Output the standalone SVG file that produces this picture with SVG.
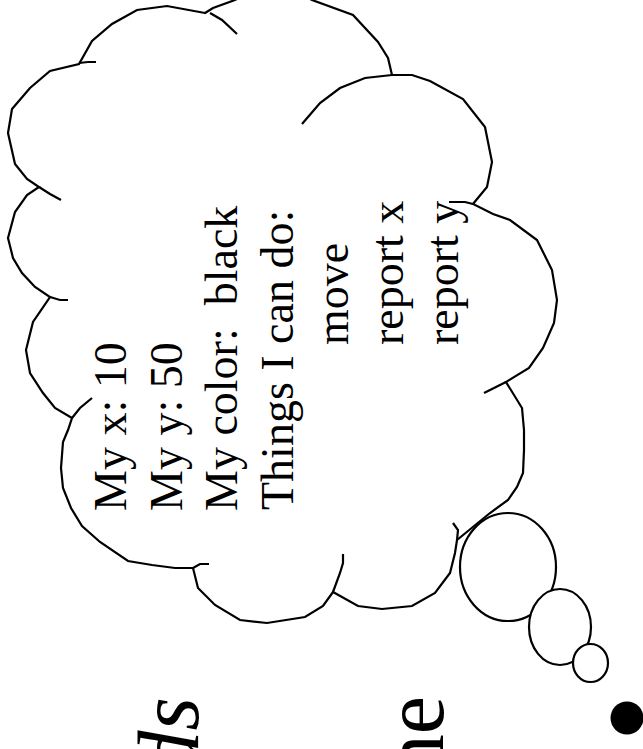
<svg xmlns="http://www.w3.org/2000/svg" width="643" height="749" viewBox="0 0 643 749">
<style>
.ln{fill:none;stroke:#000;stroke-width:2.2}
.bub{fill:#fff;stroke:#000;stroke-width:2.2}
.t{font-family:"Liberation Serif","Times New Roman",serif;font-size:46px;fill:#000;white-space:pre}
.big{font-family:"Liberation Serif","Times New Roman",serif;font-size:86px;fill:#000}
</style>
<rect width="643" height="749" fill="#fff"/>
<g id="cloud">
<path class="ln" style="fill:#fff" d="M205,13 L167,6 L137,10 L112,24 L92,41 L79,64 L50,71 L30,88 L12,109 L8,133 L15,164 L27,179 L39,187 L27,195 L15,212 L8,238 L13,258 L22,273 L35,287 L50,297 L33,322 L26,350 L30,373 L43,393 L55,408 L72,418 L68,430 L63,442 L61,468 L63,488 L71,508 L82,526 L100,542 L128,561 L152,565 L175,568 L193,568 L198,588 L215,605 L240,620 L267,623 L305,617 L323,606 L333,592 L358,606 L382,609 L412,606 L435,593 L450,573 L455,553 L457,540 L490,513 L508,500 L517,487 L523,473 L524,450 L524,430 L522,408 L506,382 L529,368 L543,348 L554,323 L557,300 L552,270 L537,240 L510,220 L493,214 L473,204 L487,187 L492,162 L485,127 L463,99 L430,81 L412,75 L392,75 L388,58 L378,42 L353,15 L312,0 L290,-12 L260,-14 L235,0 L213,8 Z"/>
<path class="ln" d="M79,63 L88,62 L96,62"/>
<path class="ln" d="M39,187 L50,194 L61,200"/>
<path class="ln" d="M50,297 L60,300 L68,300"/>
<path class="ln" d="M72,418 L80,408 L92,398"/>
<path class="ln" d="M193,568 L200,564 L209,564"/>
<path class="ln" d="M333,592 L340,573 L343,563 L343,554"/>
<path class="ln" d="M457,540 L458,530 L453,523"/>
<path class="ln" d="M506,382 L484,393"/>
<path class="ln" d="M473,204 L465,202 L449,202"/>
<path class="ln" d="M392,75 L365,78 L340,88 L320,103 L302,124"/>
<path class="ln" d="M210,13 L222,20 L237,34"/>
</g>
<g id="bubbles">
<ellipse class="bub" cx="508" cy="567" rx="48" ry="54"/>
<ellipse class="bub" cx="560" cy="627" rx="31" ry="38"/>
<ellipse class="bub" cx="590.5" cy="663" rx="17.5" ry="19"/>
</g>
<g id="thought-text" transform="rotate(-90)">
<text class="t" x="-511" y="126">My x: 10</text>
<text class="t" x="-511" y="181.5">My y: 50</text>
<text class="t" x="-511" y="237">My color:  black</text>
<text class="t" x="-510" y="292.5">Things I can do:</text>
<text class="t" x="-345" y="348">move</text>
<text class="t" x="-345" y="403">report x</text>
<text class="t" x="-345" y="458">report y</text>
</g>
<g id="title" transform="rotate(-90)">
<text class="big" font-style="italic" text-anchor="end" x="-697" y="198">ds</text>
<text class="big" text-anchor="end" x="-696" y="443">ne</text>
</g>
<circle id="bullet" cx="627" cy="718" r="16.5" fill="#000"/>
</svg>
